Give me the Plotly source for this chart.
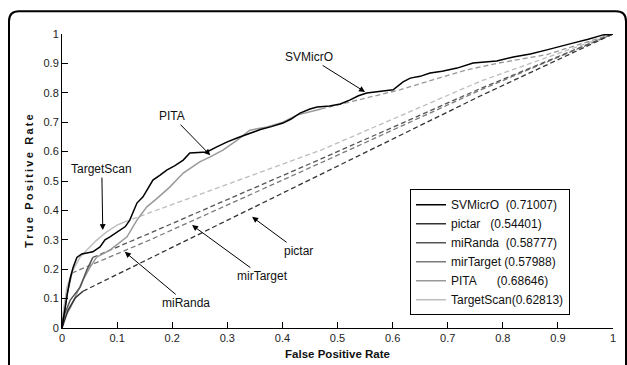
import plotly.graph_objects as go

# ROC curves: solid part of each curve, then the dashed segment that closes it to (1, 1)
svm_x = [0, 0.003, 0.005, 0.01, 0.015, 0.02, 0.027, 0.036, 0.045, 0.056, 0.069, 0.078, 0.087, 0.096,
         0.105, 0.115, 0.123, 0.13, 0.136, 0.147, 0.156, 0.165, 0.178, 0.19, 0.205, 0.22, 0.232, 0.245,
         0.263, 0.28, 0.3, 0.32, 0.341, 0.36, 0.38, 0.401, 0.415, 0.432, 0.45, 0.463, 0.486, 0.505,
         0.523, 0.538, 0.553, 0.575, 0.601, 0.619, 0.632, 0.65, 0.668, 0.69, 0.717, 0.746, 0.77, 0.789,
         0.819, 0.85, 0.88, 0.905, 0.927, 0.955, 0.982, 1]
svm_y = [0, 0.04, 0.07, 0.12, 0.17, 0.205, 0.24, 0.252, 0.255, 0.259, 0.276, 0.3, 0.31, 0.322,
         0.333, 0.345, 0.367, 0.4, 0.425, 0.446, 0.475, 0.503, 0.52, 0.537, 0.552, 0.571, 0.595, 0.597,
         0.599, 0.615, 0.633, 0.648, 0.663, 0.675, 0.685, 0.697, 0.71, 0.731, 0.745, 0.752, 0.755, 0.762,
         0.776, 0.79, 0.799, 0.805, 0.81, 0.837, 0.85, 0.856, 0.867, 0.873, 0.884, 0.901, 0.905, 0.908,
         0.922, 0.932, 0.946, 0.957, 0.969, 0.982, 0.997, 1]

pictar_x = [0, 0.005, 0.011, 0.024, 0.038]
pictar_y = [0, 0.03, 0.061, 0.102, 0.125]
pictar_dx = [0.038, 0.45, 0.76, 1]
pictar_dy = [0.125, 0.503, 0.79, 1]

miranda_x = [0, 0.002, 0.015, 0.033, 0.045, 0.056]
miranda_y = [0, 0.034, 0.095, 0.139, 0.197, 0.24]
miranda_dx = [0.056, 0.16, 0.47, 0.76, 1]
miranda_dy = [0.24, 0.323, 0.575, 0.815, 1]

mirtarget_x = [0, 0.005, 0.01, 0.018]
mirtarget_y = [0, 0.06, 0.12, 0.187]
mirtarget_dx = [0.018, 0.16, 0.47, 0.76, 1]
mirtarget_dy = [0.187, 0.30, 0.562, 0.81, 1]

pita_x = [0, 0.002, 0.015, 0.027, 0.038, 0.051, 0.063, 0.087, 0.1, 0.118, 0.136, 0.154, 0.172,
          0.196, 0.22, 0.25, 0.269, 0.292, 0.318, 0.341, 0.372, 0.401, 0.426, 0.45, 0.47]
pita_y = [0, 0.027, 0.068, 0.119, 0.163, 0.207, 0.241, 0.265, 0.285, 0.31, 0.367, 0.412, 0.44,
          0.48, 0.527, 0.565, 0.582, 0.605, 0.639, 0.673, 0.684, 0.7, 0.724, 0.735, 0.745]
pita_dx = [0.47, 0.553, 0.613, 0.673, 0.735, 0.789, 0.88, 0.982, 1]
pita_dy = [0.745, 0.782, 0.81, 0.844, 0.878, 0.9, 0.93, 0.99, 1]

tscan_x = [0, 0.002, 0.009, 0.02, 0.033, 0.047, 0.063, 0.081, 0.1, 0.114]
tscan_y = [0, 0.05, 0.14, 0.197, 0.242, 0.27, 0.299, 0.327, 0.35, 0.361]
tscan_dx = [0.114, 0.16, 0.47, 0.76, 1]
tscan_dy = [0.361, 0.393, 0.605, 0.84, 1]

legend_names = ["SVMicrO\u00a0\u00a0(0.71007)", "pictar\u00a0\u00a0\u00a0(0.54401)",
                "miRanda\u00a0\u00a0(0.58777)", "mirTarget\u00a0(0.57988)",
                "PITA\u00a0\u00a0\u00a0\u00a0\u00a0\u00a0(0.68646)", "TargetScan(0.62813)"]
tick_vals = [0, 0.1, 0.2, 0.3, 0.4, 0.5, 0.6, 0.7, 0.8, 0.9, 1]
tick_text = ["0", "0.1", "0.2", "0.3", "0.4", "0.5", "0.6", "0.7", "0.8", "0.9", "1"]

FONT = "Liberation Sans, Arial, Helvetica, sans-serif"

series = [
    # name index, color, solid xy, dashed xy
    (5, "#bdbdbd", tscan_x, tscan_y, tscan_dx, tscan_dy),
    (4, "#999999", pita_x, pita_y, pita_dx, pita_dy),
    (3, "#7a7a7a", mirtarget_x, mirtarget_y, mirtarget_dx, mirtarget_dy),
    (2, "#555555", miranda_x, miranda_y, miranda_dx, miranda_dy),
    (1, "#333333", pictar_x, pictar_y, pictar_dx, pictar_dy),
]

fig = go.Figure()
for idx, color, sx, sy, dx, dy in series:
    fig.add_trace(go.Scatter(x=dx, y=dy, mode="lines", showlegend=False, hoverinfo="skip",
                             line=dict(color=color, width=1.3, dash="5px,3px")))
for idx, color, sx, sy, dx, dy in series:
    fig.add_trace(go.Scatter(x=sx, y=sy, mode="lines", name=legend_names[idx], legendrank=idx + 1,
                             line=dict(color=color, width=1.5)))
fig.add_trace(go.Scatter(x=svm_x, y=svm_y, mode="lines", name=legend_names[0], legendrank=1,
                         line=dict(color="#000000", width=1.5)))

# labels with arrows (tip in data coords, text offset in pixels)
labels = [
    ("SVMicrO", 0.55, 0.803, -56, -35),
    ("PITA", 0.269, 0.588, -38, -39),
    ("TargetScan", 0.074, 0.333, -1, -61),
    ("miRanda", 0.114, 0.259, 61, 51),
    ("mirTarget", 0.236, 0.35, 70, 51),
    ("pictar", 0.345, 0.378, 46, 34),
]
for text, x, y, ax, ay in labels:
    fig.add_annotation(x=x, y=y, text=text, ax=ax, ay=ay, axref="pixel", ayref="pixel",
                       showarrow=True, arrowhead=2, arrowsize=1.2, arrowwidth=1,
                       arrowcolor="#000000", font=dict(family=FONT, size=12, color="#111111"))

# rounded outer frame (pixel geometry converted to paper coords of the plot area)
L, T, W, H = 62, 33.7, 551, 294.3
def px(x):
    return (x - L) / W
def py(y):
    return (T + H - y) / H
x0, x1, y0, y2, r = 9, 626, 11, 380, 10
path = (f"M {px(x0)},{py(y2)} L {px(x0)},{py(y0 + r)} Q {px(x0)},{py(y0)} {px(x0 + r)},{py(y0)} "
        f"L {px(x1 - r)},{py(y0)} Q {px(x1)},{py(y0)} {px(x1)},{py(y0 + r)} L {px(x1)},{py(y2)}")
fig.add_shape(type="path", path=path, xref="paper", yref="paper",
              line=dict(color="#000000", width=2))

axis_common = dict(range=[0, 1], tickvals=tick_vals, ticktext=tick_text, ticks="inside",
                   ticklen=6, tickcolor="#000000", showline=True, linecolor="#000000",
                   linewidth=1, showgrid=False, zeroline=False,
                   tickfont=dict(family=FONT, size=11, color="#222222"))

ytitle = ("\u2009".join("True") + "\u2009 \u2009" + "\u2009".join("Positive")
          + "\u2009 \u2009" + "\u2009".join("Rate"))

fig.update_layout(
    width=627, height=365,
    margin=dict(l=62, r=14, t=34, b=37),
    paper_bgcolor="white", plot_bgcolor="white",
    xaxis=dict(**axis_common, title=dict(text="<b>False Positive Rate</b>", standoff=6,
                                         font=dict(family=FONT, size=11.5, color="#111111"))),
    yaxis=dict(**axis_common, title=dict(text="<b>" + ytitle + "</b>", standoff=7,
                                         font=dict(family=FONT, size=11, color="#111111"))),
    legend=dict(x=px(410), y=py(189), xanchor="left", yanchor="top",
                bordercolor="#000000", borderwidth=1, bgcolor="white",
                font=dict(family=FONT, size=12, color="#111111"), tracegroupgap=0),
    showlegend=True,
)
fig.update_xaxes(automargin=False)
fig.update_yaxes(automargin=False)

fig.write_html("out.html")
